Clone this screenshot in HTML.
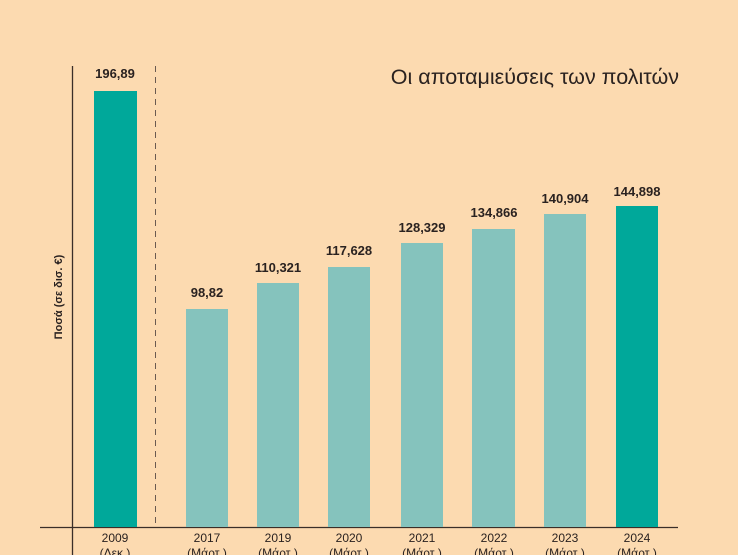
<!DOCTYPE html>
<html><head><meta charset="utf-8"><style>
body{margin:0;background:#FCDAB0;}
svg{display:block}
text{font-family:"Liberation Sans",sans-serif;}
</style></head><body>
<svg width="738" height="555" viewBox="0 0 738 555">
<rect width="738" height="555" fill="#FCDAB0"/>
<line x1="72.5" y1="66" x2="72.5" y2="555" stroke="#3a2e28" stroke-width="1.3"/>
<line x1="40" y1="527.5" x2="678" y2="527.5" stroke="#3a2e28" stroke-width="1.3"/>
<line x1="155.5" y1="66" x2="155.5" y2="527" stroke="#6a5a50" stroke-width="1" stroke-dasharray="6,5"/>
<text x="679" y="84" font-size="21.5" fill="#2a2220" text-anchor="end">Οι αποταμιεύσεις των πολιτών</text>
<text transform="translate(62,297) rotate(-90)" font-size="11" font-weight="bold" fill="#2a2220" text-anchor="middle">Ποσά (σε δισ. €)</text>
<g>
<rect x="94" y="91" width="43" height="436" fill="#00A89A"/>
<rect x="186" y="309" width="42" height="218" fill="#85C3BD"/>
<rect x="257" y="283" width="42" height="244" fill="#85C3BD"/>
<rect x="328" y="267" width="42" height="260" fill="#85C3BD"/>
<rect x="401" y="243" width="42" height="284" fill="#85C3BD"/>
<rect x="472" y="229" width="43" height="298" fill="#85C3BD"/>
<rect x="544" y="214" width="42" height="313" fill="#85C3BD"/>
<rect x="616" y="206" width="42" height="321" fill="#00A89A"/>
</g>
<g font-size="13" font-weight="bold" fill="#2a2220" text-anchor="middle">
<text x="115" y="78">196,89</text>
<text x="207" y="297">98,82</text>
<text x="278" y="272">110,321</text>
<text x="349" y="255">117,628</text>
<text x="422" y="232">128,329</text>
<text x="494" y="217">134,866</text>
<text x="565" y="203">140,904</text>
<text x="637" y="196">144,898</text>
</g>
<g font-size="12" fill="#2a2220" text-anchor="middle">
<text x="115" y="542">2009</text><text x="115" y="557">(Δεκ.)</text>
<text x="207" y="542">2017</text><text x="207" y="557">(Μάρτ.)</text>
<text x="278" y="542">2019</text><text x="278" y="557">(Μάρτ.)</text>
<text x="349" y="542">2020</text><text x="349" y="557">(Μάρτ.)</text>
<text x="422" y="542">2021</text><text x="422" y="557">(Μάρτ.)</text>
<text x="494" y="542">2022</text><text x="494" y="557">(Μάρτ.)</text>
<text x="565" y="542">2023</text><text x="565" y="557">(Μάρτ.)</text>
<text x="637" y="542">2024</text><text x="637" y="557">(Μάρτ.)</text>
</g>
</svg>
</body></html>
